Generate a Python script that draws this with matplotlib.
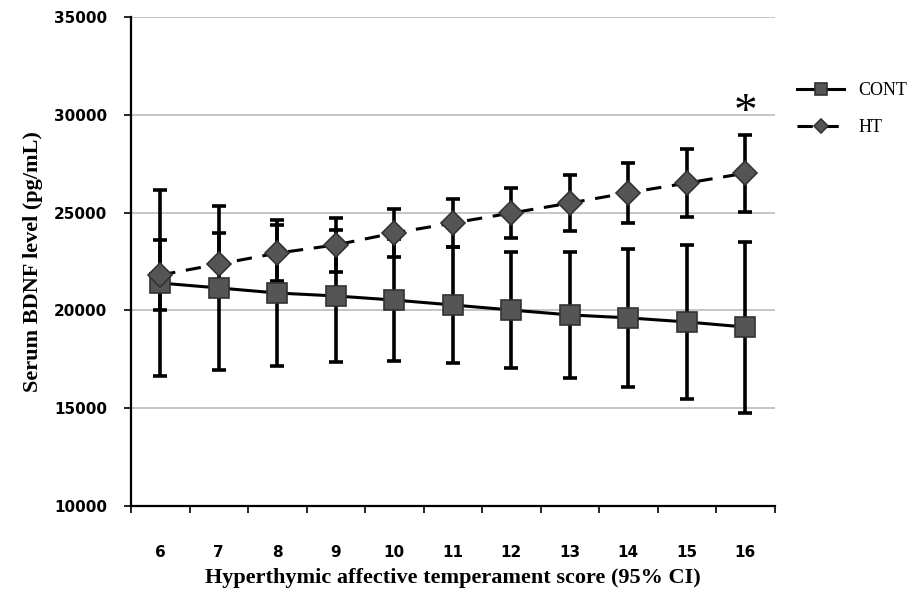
import numpy as np
import matplotlib.pyplot as plt

# scores on the x axis
scores = [6, 7, 8, 9, 10, 11, 12, 13, 14, 15, 16]

# control group: mean and 95% CI half-width
cont_mean = [21400, 21150, 20890, 20740, 20530, 20280, 20020, 19770, 19620, 19410, 19150]
cont_err = [4750, 4190, 3730, 3380, 3120, 2970, 2950, 3200, 3530, 3940, 4370]

# hyperthymic group
ht_mean = [21810, 22370, 22930, 23350, 23960, 24470, 24980, 25490, 26020, 26510, 27020]
ht_err = [1800, 1600, 1420, 1390, 1250, 1250, 1300, 1430, 1530, 1730, 1970]

serif = 'Liberation Serif'

fig = plt.figure(figsize=(9.2, 6.1), dpi=100)
ax = fig.add_axes([0.1424, 0.1705, 0.6996, 0.8015])

x = np.array(scores)

ax.errorbar(x, cont_mean, yerr=cont_err, fmt='none', ecolor='black',
            elinewidth=2.6, capsize=5, capthick=2.6, zorder=3)
ax.errorbar(x, ht_mean, yerr=ht_err, fmt='none', ecolor='black',
            elinewidth=2.6, capsize=5, capthick=2.6, zorder=3)

ax.plot(x, cont_mean, color='black', lw=2.2, marker='s', ms=14,
        mfc='#555555', mec='#333333', mew=1.2, zorder=4, label='CONT')
ax.plot(x, ht_mean, color='black', lw=2.2, ls=(0, (5, 3.5)), marker='D', ms=12,
        mfc='#555555', mec='#333333', mew=1.2, zorder=4, label='HT')

# significance mark above the last HT point
ax.text(16, 30050, '*', ha='center', va='center', fontsize=34,
        family=serif, color='black')

ax.set_xlim(5.5, 16.5)
ax.set_ylim(10000, 35000)
ax.set_yticks(np.arange(10000, 35001, 5000))
ax.set_xticks(x)
ax.set_xticks(np.arange(5.5, 16.6, 1), minor=True)
ax.tick_params(axis='x', which='major', length=0, pad=28)
ax.tick_params(axis='x', which='minor', length=5, width=1.2, direction='out')
ax.tick_params(axis='y', length=5, width=1.2, direction='out', pad=12)

for lab in ax.get_xticklabels() + ax.get_yticklabels():
    lab.set_fontweight('bold')
    lab.set_fontsize(11)

ax.yaxis.grid(True, color='#bbbbbb', lw=1.2)
ax.set_axisbelow(True)
for s in ['top', 'right']:
    ax.spines[s].set_visible(False)
ax.spines['left'].set_linewidth(1.6)
ax.spines['bottom'].set_linewidth(1.6)

ax.set_xlabel('Hyperthymic affective temperament score (95% CI)', family=serif,
              fontsize=16, fontweight='bold', labelpad=6)
ax.set_ylabel('Serum BDNF level (pg/mL)', family=serif, fontsize=16,
              fontweight='bold', labelpad=8)

leg = ax.legend(loc='upper left', bbox_to_anchor=(1.01, 0.9), frameon=False,
                prop={'family': serif, 'size': 13}, handlelength=2.6,
                labelspacing=1.1, markerscale=0.6)

fig.savefig('out.png', dpi=100)
